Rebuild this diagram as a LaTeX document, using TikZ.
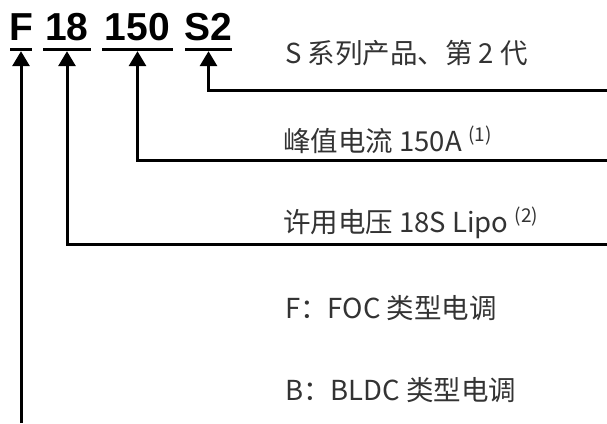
\documentclass[tikz,border=0pt]{standalone}
\usepackage{fontspec}
\setmainfont{Noto Sans CJK SC}
\newfontfamily\codefont{Liberation Sans}
\usetikzlibrary{arrows.meta}
\definecolor{txt}{HTML}{333333}
\tikzset{
  code/.style={anchor=base, inner sep=0pt, font=\codefont\fontsize{39}{39}\selectfont\bfseries, text=black},
  uline/.style={inner sep=0pt, minimum height=3pt, fill=black, draw=none},
  desc/.style={anchor=base west, inner sep=0pt, font=\fontsize{27.5}{27.5}\selectfont, text=txt},
  arr/.style={line width=3pt, -{Triangle[width=17pt,length=15pt]}},
}
\newcommand{\fnote}[1]{\raisebox{0.36em}{\fontsize{19}{19}\selectfont(#1)}}
\begin{document}
\begin{tikzpicture}[x=1pt,y=-1pt]
\useasboundingbox (0,0) rectangle (607,423);
% code parts
\node[code] (tF) at (21,40) {F};
\node[code] (t18) at (67,40) {18};
\node[code] (t150) at (137.5,40) {150};
\node[code] (tS2) at (208.5,40) {S2};
% underlines
\node[uline, minimum width=22pt] (uF) at (21,49.5) {};
\node[uline, minimum width=48pt] (u18) at (67,49.5) {};
\node[uline, minimum width=71pt] (u150) at (137.5,49.5) {};
\node[uline, minimum width=47pt] (uS2) at (208.5,49.5) {};
% descriptions
\node[desc] (dS2) at (285,63) {S 系列产品、第 2 代};
\node[desc] (d150) at (283,151) {峰值电流 150A \fnote{1}};
\node[desc] (d18) at (283,232) {许用电压 18S Lipo \fnote{2}};
\node[desc] (dF) at (285,318) {F：FOC 类型电调};
\node[desc] (dB) at (285,400) {B：BLDC 类型电调};
% connector ends
\coordinate (eS2) at (607,90);
\coordinate (e150) at (607,160);
\coordinate (e18) at (607,244);
\coordinate (eF) at (21,423);
% arrows
\draw[arr] (eS2) -| (uS2.south);
\draw[arr] (e150) -| (u150.south);
\draw[arr] (e18) -| (u18.south);
\draw[arr] (eF) -- (uF.south);
\end{tikzpicture}
\end{document}
